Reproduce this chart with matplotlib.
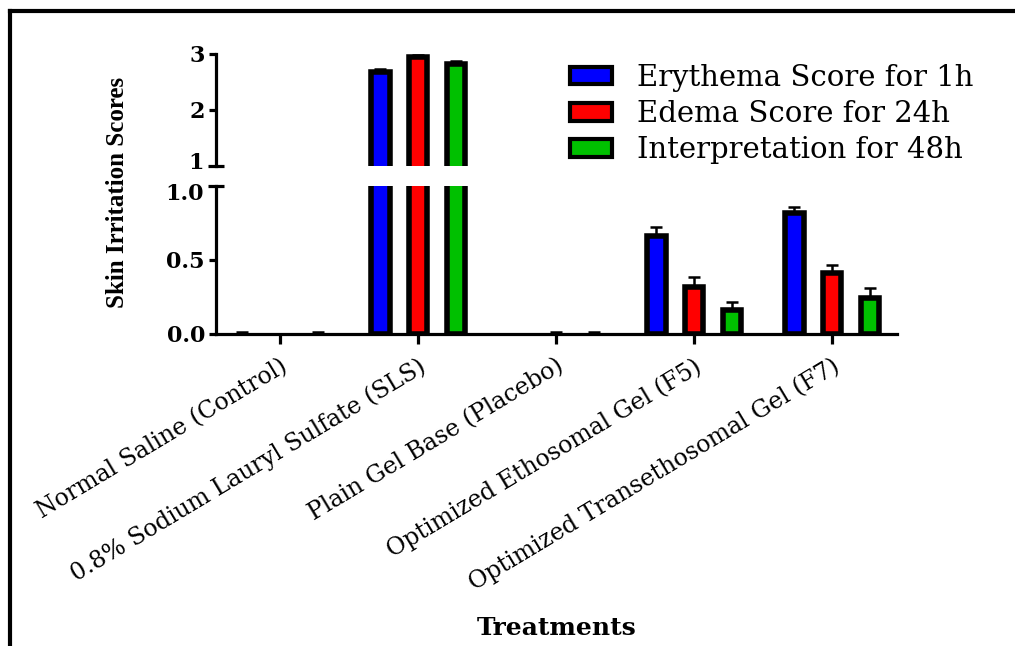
import numpy as np
import matplotlib
matplotlib.use("Agg")
import matplotlib.pyplot as plt
import matplotlib.patches as mpatches
import matplotlib.transforms as mtransforms
from matplotlib.lines import Line2D

categories = ["Normal Saline (Control)", "0.8% Sodium Lauryl Sulfate (SLS)",
              "Plain Gel Base (Placebo)", "Optimized Ethosomal Gel (F5)",
              "Optimized Transethosomal Gel (F7)"]
series_names = ["Erythema Score for 1h", "Edema Score for 24h", "Interpretation for 48h"]
erythema = [0.0, 2.67, 0.0, 0.66, 0.82]
erythema_err = [0.012, 0.06, 0.003, 0.06, 0.036]
edema = [0.0, 2.94, 0.0, 0.32, 0.414]
edema_err = [0.003, 0.05, 0.012, 0.065, 0.055]
interp = [0.0, 2.83, 0.0, 0.162, 0.245]
interp_err = [0.012, 0.05, 0.012, 0.056, 0.064]
colors = ["#0000FF", "#FF0000", "#00C000"]

SERIF = "DejaVu Serif"
W, H = 1015, 646
fig = plt.figure(figsize=(W / 100, H / 100), dpi=100)

def fx(px):
    return px / W

def fy(py):
    return 1 - py / H

ax_b = fig.add_axes([fx(216), fy(334), fx(897) - fx(216), fy(186) - fy(334)])
ax_t = fig.add_axes([fx(216), fy(166), fx(897) - fx(216), fy(54) - fy(166)], sharex=ax_b)

x = np.arange(len(categories))
offsets = [-0.275, 0.0, 0.275]
bw = 0.135
lw_edge = 4.0
data = [(erythema, erythema_err), (edema, edema_err), (interp, interp_err)]

for ax in (ax_b, ax_t):
    for (vals, errs), off, c in zip(data, offsets, colors):
        vals = np.array(vals)
        lws = [lw_edge if v > 0 else 0 for v in vals]
        ax.bar(x + off, vals, width=bw, color=c, edgecolor="black", linewidth=lws, zorder=2)
        ax.errorbar(x + off, vals, yerr=[np.zeros_like(vals), errs], fmt="none",
                    ecolor="black", elinewidth=1.8, capsize=4.5, capthick=1.8, zorder=3)

ax_b.set_xlim(-0.465, 4.47)
ax_b.set_ylim(0, 1.0)
ax_t.set_ylim(1, 3)

for ax in (ax_b, ax_t):
    for s in ("top", "right"):
        ax.spines[s].set_visible(False)
    ax.spines["left"].set_linewidth(2.3)
    ax.spines["bottom"].set_linewidth(2.3)
ax_t.spines["bottom"].set_visible(False)

ax_b.set_yticks([0.0, 0.5])
ax_b.set_yticklabels(["0.0", "0.5"])
ax_b.set_yticks([1.0], labels=["1.0"], minor=True)
ax_t.set_yticks([2, 3])
ax_t.set_yticklabels(["2", "3"])
ax_t.set_yticks([1], labels=["1"], minor=True)

for ax in (ax_b, ax_t):
    ax.tick_params(axis="y", which="major", direction="out", length=5, width=2.3, pad=3)
    ax.tick_params(axis="y", which="minor", direction="inout", length=12, width=2.3, pad=3)
    for lab in ax.get_yticklabels(which="both"):
        lab.set_fontfamily(SERIF)
        lab.set_fontweight("bold")
        lab.set_fontsize(16)

# nudge the labels at the axis break apart
for lab in ax_t.get_yticklabels(minor=True):
    lab.set_transform(lab.get_transform() +
                      mtransforms.ScaledTranslation(0, 6 / 100, fig.dpi_scale_trans))
for lab in ax_b.get_yticklabels(minor=True):
    lab.set_transform(lab.get_transform() +
                      mtransforms.ScaledTranslation(0, -6 / 100, fig.dpi_scale_trans))

ax_t.tick_params(axis="x", which="both", bottom=False, labelbottom=False)
ax_b.set_xticks(x)
ax_b.set_xticklabels(categories, rotation=31, ha="right", rotation_mode="anchor",
                     fontfamily=SERIF, fontsize=17)
ax_b.tick_params(axis="x", direction="out", length=7, width=2.3, pad=8)

ax_b.set_xlabel("Treatments", fontfamily=SERIF, fontweight="bold", fontsize=18)
ax_b.xaxis.set_label_coords((557 - 216) / (897 - 216), (334 - 616) / (334 - 186))

fig.text(fx(118), fy(192), "Skin Irritation Scores", rotation=90, ha="center", va="center",
         fontfamily="Liberation Serif", fontweight="bold", fontsize=18)

handles = [mpatches.Patch(facecolor=c, edgecolor="black", linewidth=3.0) for c in colors]
leg = fig.legend(handles, series_names, loc="upper left", bbox_to_anchor=(fx(570), fy(64)),
                 frameon=False, prop={"family": SERIF, "size": 21}, borderpad=0,
                 handlelength=1.45, handleheight=0.55, handletextpad=0.85, labelspacing=0.28,
                 borderaxespad=0)

# figure frame (left and top edges)
fig.add_artist(Line2D([fx(10), fx(10)], [0, fy(11)], color="black", linewidth=3.0,
                      transform=fig.transFigure))
fig.add_artist(Line2D([fx(10), 1.0], [fy(11), fy(11)], color="black", linewidth=3.0,
                      transform=fig.transFigure))

fig.savefig("out.png", dpi=100)
